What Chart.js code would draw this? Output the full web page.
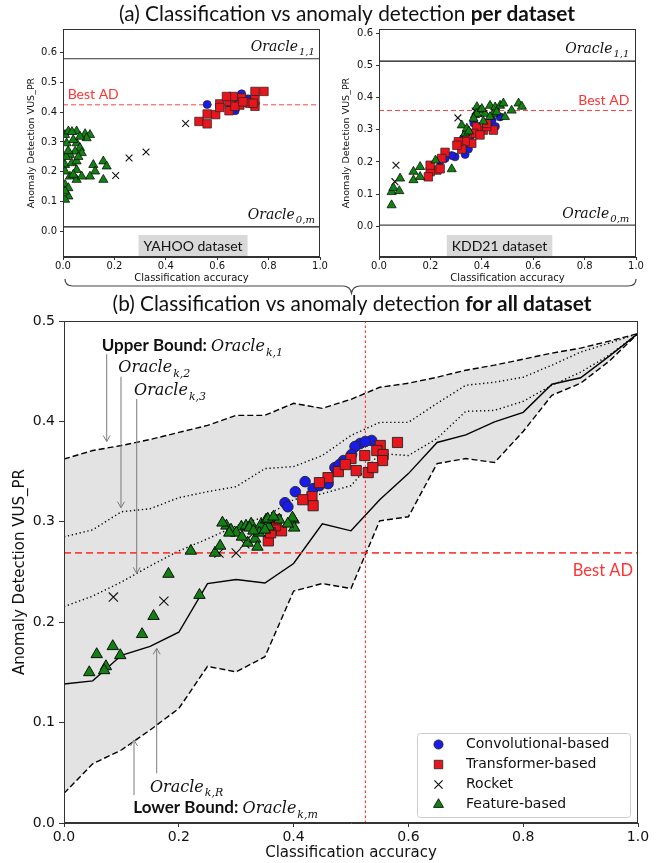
<!DOCTYPE html>
<html><head><meta charset="utf-8">
<script src="https://cdn.jsdelivr.net/npm/chart.js@4.4.0/dist/chart.umd.min.js"></script>
<style>
html,body{margin:0;padding:0;background:#fff;width:667px;height:863px;overflow:hidden;position:relative}
canvas{position:absolute}
</style></head><body>
<script>
// ---------------- DATA ----------------
const xTicks = [0, 0.2, 0.4, 0.6, 0.8, 1.0];
const mainYTicks = [0, 0.1, 0.2, 0.3, 0.4, 0.5];
const smallYTicks = [0, 0.1, 0.2, 0.3, 0.4, 0.5, 0.6];

// (a) YAHOO
const yahooConv = [[0.561,0.426],[0.695,0.462],[0.65,0.42],[0.68,0.44],[0.67,0.405],[0.72,0.445]];
const yahooTrans = [[0.529,0.369],[0.561,0.361],[0.561,0.394],[0.594,0.392],[0.61,0.428],[0.61,0.416],[0.646,0.405],[0.646,0.436],[0.663,0.453],[0.695,0.448],[0.714,0.434],[0.747,0.47],[0.782,0.47],[0.747,0.42],[0.747,0.442],[0.727,0.43],[0.688,0.424],[0.669,0.42],[0.636,0.453],[0.70,0.435],[0.74,0.43]];
const yahooRocket = [[0.477,0.362],[0.323,0.266],[0.257,0.246],[0.205,0.187]];
const yahooFeat = [[0.008,0.324],[0.021,0.336],[0.053,0.336],[0.086,0.327],[0.105,0.324],[0.092,0.313],[0.014,0.296],[0.053,0.296],[0.066,0.280],[0.047,0.268],[0.027,0.257],[0.073,0.263],[0.008,0.223],[0.034,0.229],[0.053,0.235],[0.053,0.206],[0.027,0.184],[0.053,0.173],[0.008,0.201],[0.008,0.156],[0.021,0.145],[0.021,0.117],[0.008,0.134],[0.008,0.106],[0.118,0.223],[0.125,0.201],[0.157,0.235],[0.170,0.218],[0.157,0.173],[0.105,0.184],[0.073,0.184],[0.040,0.307],[0.066,0.318],[0.035,0.334],[0.012,0.250],[0.06,0.250],[0.02,0.27],[0.04,0.19]];
const yahooOracleTop = 0.58, yahooOracleBottom = 0.0145, yahooBestAD = 0.425;

// (a) KDD21
const kddConv = [[0.471,0.340],[0.432,0.325],[0.40,0.299],[0.381,0.294],[0.355,0.279],[0.328,0.273],[0.309,0.258],[0.348,0.24],[0.335,0.2235],[0.296,0.216],[0.283,0.22],[0.257,0.211],[0.238,0.203],[0.369,0.321],[0.453,0.31],[0.44,0.33]];
const kddTrans = [[0.406,0.299],[0.445,0.299],[0.419,0.31],[0.38,0.309],[0.368,0.289],[0.342,0.284],[0.361,0.258],[0.335,0.263],[0.322,0.24],[0.309,0.263],[0.303,0.252],[0.257,0.23],[0.244,0.211],[0.225,0.175],[0.199,0.17],[0.192,0.154],[0.199,0.19],[0.238,0.179],[0.393,0.284],[0.419,0.32]];
const kddRocket = [[0.307,0.337],[0.066,0.190],[0.062,0.139],[0.374,0.358],[0.387,0.35]];
const kddFeat = [[0.049,0.066],[0.049,0.107],[0.056,0.12],[0.079,0.11],[0.082,0.149],[0.134,0.144],[0.134,0.17],[0.16,0.154],[0.16,0.185],[0.283,0.178],[0.322,0.314],[0.335,0.289],[0.374,0.346],[0.381,0.371],[0.394,0.36],[0.406,0.326],[0.413,0.35],[0.432,0.375],[0.445,0.35],[0.452,0.37],[0.471,0.375],[0.484,0.382],[0.49,0.34],[0.516,0.36],[0.543,0.382],[0.556,0.372],[0.381,0.35],[0.368,0.335],[0.458,0.355],[0.432,0.34],[0.342,0.304],[0.22,0.205],[0.35,0.295],[0.40,0.365]];
const kddOracleTop = 0.513, kddOracleBottom = 0.004, kddBestAD = 0.36;

// (b) all datasets: oracle curves
const oracleX = [0,0.05,0.1,0.15,0.2,0.25,0.3,0.35,0.4,0.45,0.5,0.55,0.6,0.65,0.7,0.75,0.8,0.85,0.9,0.95,1.0];
const upperBound = [0.3625,0.371,0.376,0.382,0.389,0.396,0.406,0.406,0.418,0.413,0.422,0.434,0.438,0.444,0.451,0.456,0.462,0.468,0.473,0.480,0.4875];
const oracleK2 = [0.285,0.292,0.310,0.313,0.324,0.330,0.335,0.353,0.355,0.366,0.386,0.399,0.399,0.418,0.436,0.439,0.444,0.456,0.469,0.478,0.4875];
const oracleK3 = [0.2155,0.226,0.240,0.256,0.271,0.283,0.296,0.305,0.322,0.328,0.336,0.368,0.366,0.383,0.410,0.411,0.420,0.436,0.449,0.466,0.4875];
const oracleKR = [0.1385,0.1416,0.167,0.176,0.190,0.2385,0.2425,0.239,0.2585,0.298,0.291,0.322,0.348,0.379,0.3865,0.3995,0.409,0.437,0.4435,0.465,0.4875];
const lowerBound = [0.0295,0.059,0.0727,0.0926,0.114,0.156,0.1505,0.1656,0.231,0.2385,0.2335,0.301,0.305,0.358,0.363,0.359,0.390,0.426,0.438,0.460,0.4875];
const allBestAD = 0.269, allBestAcc = 0.525;

const allConv = [[0.536,0.381],[0.516,0.378],[0.507,0.375],[0.501,0.367],[0.487,0.361],[0.472,0.354],[0.46,0.338],[0.434,0.333],[0.42,0.340],[0.403,0.330],[0.385,0.319],[0.39,0.315],[0.525,0.38],[0.48,0.357],[0.445,0.336]];
const allTrans = [[0.581,0.379],[0.551,0.376],[0.545,0.371],[0.556,0.367],[0.555,0.361],[0.524,0.366],[0.509,0.351],[0.530,0.349],[0.538,0.354],[0.478,0.350],[0.46,0.344],[0.445,0.339],[0.432,0.325],[0.434,0.316],[0.416,0.322],[0.379,0.291],[0.356,0.281],[0.368,0.296],[0.50,0.363],[0.49,0.357],[0.37,0.302],[0.36,0.289]];
const allRocket = [[0.086,0.225],[0.174,0.221],[0.27,0.269],[0.30,0.269],[0.315,0.278],[0.32,0.283]];
const allFeat = [[0.044,0.150],[0.057,0.168],[0.085,0.176],[0.073,0.156],[0.070,0.152],[0.098,0.167],[0.136,0.188],[0.156,0.206],[0.236,0.227],[0.182,0.248],[0.221,0.271],[0.263,0.269],[0.272,0.276],[0.283,0.296],[0.291,0.292],[0.309,0.295],[0.300,0.289],[0.317,0.296],[0.326,0.298],[0.320,0.279],[0.333,0.283],[0.337,0.275],[0.343,0.297],[0.357,0.295],[0.352,0.302],[0.355,0.303],[0.375,0.302],[0.400,0.302],[0.401,0.294],[0.398,0.304],[0.276,0.299],[0.323,0.294],[0.288,0.289],[0.340,0.289],[0.33,0.291],[0.31,0.285],[0.35,0.292],[0.365,0.305],[0.39,0.298]];

const seriesNames = ['Convolutional-based','Transformer-based','Rocket','Feature-based'];

// ---------------- STYLE / BUILD ----------------
const COL = {conv:'#1b1be8', trans:'#e8161c', feat:'#138013', rocket:'#111111', fill:'#e3e3e3', red:'rgba(255,45,45,0.9)'};
const pts = a => a.map(p => ({x:p[0], y:p[1]}));
const linePts = (xs, ys) => xs.map((x,i) => ({x, y:ys[i]}));
const hline = (y) => [{x:0,y},{x:1,y}];

function scatterSets(conv, trans, rocket, feat, big){
  const s = big ? {c:5.3, r:7.2, x:6.5, t:6.6, bw:0.9} : {c:4.0, r:6.0, x:4.8, t:5.3, bw:0.7};
  return [
    {label:seriesNames[3], data:pts(feat), pointStyle:'triangle', pointRadius:s.t, pointBackgroundColor:COL.feat, pointBorderColor:'#000', pointBorderWidth:s.bw, order:1},
    {label:seriesNames[2], data:pts(rocket), pointStyle:'crossRot', pointRadius:s.x, pointBackgroundColor:'#000', pointBorderColor:'#111', pointBorderWidth:1.1, order:2},
    {label:seriesNames[1], data:pts(trans), pointStyle:'rect', pointRadius:s.r, pointBackgroundColor:COL.trans, pointBorderColor:'#222', pointBorderWidth:s.bw, order:3},
    {label:seriesNames[0], data:pts(conv), pointStyle:'circle', pointRadius:s.c, pointBackgroundColor:COL.conv, pointBorderColor:'#222', pointBorderWidth:s.bw, order:4},
  ];
}
function lineSet(data, o){
  return Object.assign({data, showLine:true, pointRadius:0, borderColor:'#000', borderWidth:1.2, tension:0, fill:false, order:10}, o);
}

function scalesCfg(o){
  return {
    x:{type:'linear', min:0, max:1,
      afterBuildTicks:s=>{s.ticks = xTicks.map(v=>({value:v}));},
      afterFit:s=>{s.height = o.xh;},
      grid:{display:true, drawOnChartArea:false, drawTicks:true, tickLength:o.xtl, color:'#333', tickColor:'#333'},
      border:{display:true, color:'#333', width:1},
      ticks:{font:{family:'DejaVu Sans', size:o.tf}, color:'#111', padding:o.xtp, maxRotation:0, callback:v=>Number(v).toFixed(1)},
      title:{display:true, text:'Classification accuracy', font:{family:'DejaVu Sans', size:o.af}, color:'#111', padding:{top:0, bottom:o.xtitle}}},
    y:{type:'linear', min:o.ymin, max:o.ymax,
      afterBuildTicks:s=>{s.ticks = o.yticks.map(v=>({value:v}));},
      afterFit:s=>{s.width = o.yw;},
      grid:{display:true, drawOnChartArea:false, drawTicks:true, tickLength:o.ytl, color:'#333', tickColor:'#333'},
      border:{display:true, color:'#333', width:1},
      ticks:{font:{family:'DejaVu Sans', size:o.tf}, color:'#111', padding:o.ytp, callback:v=>Number(v).toFixed(1)},
      title:{display:true, text:'Anomaly Detection VUS_PR', font:{family:'DejaVu Sans', size:o.yaf}, color:'#111', padding:{top:o.ytitle, bottom:0}}}
  };
}

function mkCanvas(left, top, w, h){
  const c = document.createElement('canvas');
  c.width = w; c.height = h;
  c.style.cssText = `left:${left}px;top:${top}px;width:${w}px;height:${h}px`;
  document.body.appendChild(c);
  return c;
}

function oracleText(ctx, x, y, sub, size, align){
  const f1 = `italic ${size}px "DejaVu Serif"`, f2 = `italic ${Math.round(size*0.68)}px "DejaVu Serif"`;
  ctx.font = f1; const w1 = ctx.measureText('Oracle').width;
  ctx.font = f2; const w2 = ctx.measureText(sub).width;
  const x0 = align === 'right' ? x - w1 - w2 - 1 : x;
  ctx.textAlign = 'left'; ctx.textBaseline = 'alphabetic'; ctx.fillStyle = '#111';
  ctx.font = f1; ctx.fillText('Oracle', x0, y);
  ctx.font = f2; ctx.fillText(sub, x0 + w1 + 1, y + size*0.3);
  return w1 + w2 + 1;
}

const framePlugin = {id:'frame', afterDraw(chart){
  const {ctx, chartArea:a} = chart;
  ctx.save(); ctx.strokeStyle = '#333'; ctx.lineWidth = 1;
  ctx.strokeRect(Math.round(a.left)+0.5, Math.round(a.top)+0.5, Math.round(a.right-a.left)-1, Math.round(a.bottom-a.top)-1);
  ctx.restore();
}};

function smallAnno(cfg){
  return {id:'anno', afterDatasetsDraw(chart){
    const {ctx, chartArea:a, scales:{x, y}} = chart;
    ctx.save();
    oracleText(ctx, x.getPixelForValue(cfg.oracleX), y.getPixelForValue(cfg.topLabelY), '1,1', 14, 'right');
    oracleText(ctx, x.getPixelForValue(cfg.oracleX), y.getPixelForValue(cfg.botLabelY), '0,m', 14, 'right');
    ctx.fillStyle = 'rgba(255,40,40,0.95)'; ctx.font = '14px Lato'; ctx.textBaseline = 'alphabetic';
    ctx.textAlign = cfg.adAlign;
    ctx.fillText('Best AD', x.getPixelForValue(cfg.adX), y.getPixelForValue(cfg.adY));
    // dataset label box
    ctx.font = '14px Lato';
    const tw = ctx.measureText(cfg.name).width;
    const cx = a.left + cfg.nameX*(a.right-a.left), cy = a.bottom - 11.5;
    ctx.fillStyle = '#d9d9d9';
    ctx.fillRect(cx - tw/2 - 5, cy - 10.5, tw + 10, 21);
    ctx.fillStyle = '#111'; ctx.textAlign = 'center'; ctx.textBaseline = 'middle';
    ctx.fillText(cfg.name, cx, cy + 1);
    ctx.restore();
  }};
}

function arrow(ctx, x, y0, y1){
  ctx.beginPath(); ctx.moveTo(x, y0); ctx.lineTo(x, y1); ctx.stroke();
  const d = y1 > y0 ? -1 : 1;
  ctx.beginPath(); ctx.moveTo(x-3.5, y1 + d*6); ctx.lineTo(x, y1); ctx.lineTo(x+3.5, y1 + d*6); ctx.stroke();
}

const mainAnno = {id:'mainAnno', afterDatasetsDraw(chart){
  const {ctx, chartArea:a, scales:{x, y}} = chart;
  const X = v => x.getPixelForValue(v), Y = v => y.getPixelForValue(v);
  ctx.save();
  ctx.strokeStyle = '#7a7a7a'; ctx.lineWidth = 1;
  arrow(ctx, X(0.0744), Y(0.467), Y(0.380));
  arrow(ctx, X(0.0993), Y(0.4445), Y(0.314));
  arrow(ctx, X(0.1267), Y(0.4223), Y(0.2487));
  arrow(ctx, X(0.122), Y(0.0279), Y(0.0827));
  arrow(ctx, X(0.1615), Y(0.0495), Y(0.174));
  ctx.fillStyle = '#111'; ctx.textAlign = 'left'; ctx.textBaseline = 'alphabetic';
  ctx.font = 'bold 17px Lato';
  let w = ctx.measureText('Upper Bound: ').width;
  ctx.fillText('Upper Bound: ', X(0.0657), Y(0.470));
  oracleText(ctx, X(0.0657) + w, Y(0.470), 'k,1', 16, 'left');
  oracleText(ctx, X(0.0946), Y(0.4495), 'k,2', 16, 'left');
  oracleText(ctx, X(0.122), Y(0.4263), 'k,3', 16, 'left');
  oracleText(ctx, X(0.1498), Y(0.0312), 'k,R', 16, 'left');
  ctx.fillStyle = '#111'; ctx.font = 'bold 17px Lato';
  w = ctx.measureText('Lower Bound: ').width;
  ctx.fillText('Lower Bound: ', X(0.1207), Y(0.0097));
  oracleText(ctx, X(0.1207) + w, Y(0.0097), 'k,m', 16, 'left');
  ctx.fillStyle = 'rgba(255,40,40,0.95)'; ctx.font = '16.5px Lato'; ctx.textAlign = 'right';
  ctx.fillText('Best AD', a.right - 5, Y(0.246));
  // legend
  const bw = 213, bh = 84, bx = a.right - 8 - bw, by = a.bottom - 6 - bh;
  ctx.fillStyle = 'rgba(255,255,255,0.85)'; ctx.strokeStyle = '#cccccc'; ctx.lineWidth = 1;
  ctx.beginPath(); ctx.roundRect(bx+0.5, by+0.5, bw, bh, 3); ctx.fill(); ctx.stroke();
  const metaOrder = [3,2,1,0];
  const legR = {circle:4.6, rect:6.0, crossRot:5.8, triangle:5.8};
  metaOrder.forEach((di, i) => {
    const ds = chart.data.datasets[di];
    const cy = by + 11.5 + i*20, cx = bx + 21.5;
    ctx.fillStyle = ds.pointBackgroundColor; ctx.strokeStyle = ds.pointBorderColor;
    ctx.lineWidth = ds.pointStyle === 'crossRot' ? 1.2 : 0.8;
    Chart.helpers.drawPoint(ctx, {pointStyle:ds.pointStyle, radius:legR[ds.pointStyle], rotation:0, borderWidth:ctx.lineWidth}, cx, cy);
    ctx.fillStyle = '#111'; ctx.font = '14px "DejaVu Sans"'; ctx.textAlign = 'left'; ctx.textBaseline = 'middle';
    ctx.fillText(ds.label, bx + 49, cy);
  });
  ctx.restore();
}};

const baseOpts = {responsive:false, animation:false, events:[], plugins:{legend:{display:false}, tooltip:{enabled:false}, filler:{drawTime:'beforeDatasetsDraw'}}};

function build(){
  const c1 = mkCanvas(0, 20, 333, 265);
  new Chart(c1, {type:'scatter',
    data:{datasets:[
      ...scatterSets(yahooConv, yahooTrans, yahooRocket, yahooFeat, false),
      lineSet(hline(yahooOracleTop), {borderColor:'#333'}),
      lineSet(hline(yahooOracleBottom), {borderColor:'#111'}),
      lineSet(hline(yahooBestAD), {borderColor:COL.red, borderDash:[5,3], borderWidth:1})
    ]},
    options:Object.assign({}, baseOpts, {layout:{padding:{left:0, top:9, right:13, bottom:0}},
      scales:scalesCfg({xh:28, xtl:3, xtp:0, tf:10, af:10, yaf:9.5, xtitle:1, ymin:-0.087, ymax:0.68, yticks:smallYTicks, yw:63, ytl:3, ytp:3, ytitle:26})}),
    plugins:[smallAnno({oracleX:0.98, topLabelY:0.607, botLabelY:0.0414, adX:0.018, adY:0.4455, adAlign:'left', name:'YAHOO dataset', nameX:0.506}), framePlugin]
  });
  const c2 = mkCanvas(333, 20, 334, 265);
  new Chart(c2, {type:'scatter',
    data:{datasets:[
      ...scatterSets(kddConv, kddTrans, kddRocket, kddFeat, false),
      lineSet(hline(kddOracleTop), {borderColor:'#111'}),
      lineSet(hline(kddOracleBottom), {borderColor:'#444'}),
      lineSet(hline(kddBestAD), {borderColor:COL.red, borderDash:[5,3], borderWidth:1})
    ]},
    options:Object.assign({}, baseOpts, {layout:{padding:{left:0, top:9, right:31, bottom:0}},
      scales:scalesCfg({xh:28, xtl:3, xtp:0, tf:10, af:10, yaf:9.5, xtitle:1, ymin:-0.095, ymax:0.613, yticks:smallYTicks, yw:46, ytl:3, ytp:3, ytitle:8})}),
    plugins:[smallAnno({oracleX:0.974, topLabelY:0.539, botLabelY:0.0258, adX:0.974, adY:0.377, adAlign:'right', name:'KDD21 dataset', nameX:0.469}), framePlugin]
  });
  const c3 = mkCanvas(0, 300, 667, 563);
  const sc = scatterSets(allConv, allTrans, allRocket, allFeat, true);
  const base = sc.length;
  new Chart(c3, {type:'scatter',
    data:{datasets:[
      ...sc,
      lineSet(linePts(oracleX, upperBound), {label:'Upper bound', borderDash:[6,3], borderWidth:1.4, fill:base+4, backgroundColor:COL.fill, order:14}),
      lineSet(linePts(oracleX, oracleK2), {borderDash:[1.3,2.7], borderWidth:1.4, order:13}),
      lineSet(linePts(oracleX, oracleK3), {borderDash:[1.3,2.7], borderWidth:1.4, order:12}),
      lineSet(linePts(oracleX, oracleKR), {borderWidth:1.4, order:11}),
      lineSet(linePts(oracleX, lowerBound), {label:'Lower bound', borderDash:[6,3], borderWidth:1.4, order:15}),
      lineSet(hline(allBestAD), {borderColor:COL.red, borderDash:[7,4], borderWidth:1.8, order:9}),
      lineSet([{x:allBestAcc, y:0},{x:allBestAcc, y:0.5}], {borderColor:'rgba(255,20,20,1)', borderDash:[2.5,2.5], borderWidth:1, order:9})
    ]},
    options:Object.assign({}, baseOpts, {layout:{padding:{left:0, top:21, right:29, bottom:0}},
      scales:scalesCfg({xh:40, xtl:4, xtp:2, tf:14, af:15, yaf:15, xtitle:1, ymin:0, ymax:0.5, yticks:mainYTicks, yw:64, ytl:5, ytp:4, ytitle:11})}),
    plugins:[mainAnno, framePlugin]
  });

  const d = mkCanvas(0, 0, 667, 863);
  d.style.zIndex = 5; d.style.pointerEvents = 'none';
  const ctx = d.getContext('2d');
  function title(normal, bold, cx, baseline, width){
    let fs = 20;
    ctx.font = `${fs}px Lato`; let w1 = ctx.measureText(normal).width;
    ctx.font = `bold ${fs}px Lato`; let w2 = ctx.measureText(bold).width;
    fs = fs * width / (w1 + w2);
    ctx.font = `${fs}px Lato`; w1 = ctx.measureText(normal).width;
    ctx.font = `bold ${fs}px Lato`; w2 = ctx.measureText(bold).width;
    const x0 = cx - (w1 + w2)/2;
    ctx.fillStyle = '#111'; ctx.textAlign = 'left'; ctx.textBaseline = 'alphabetic';
    ctx.font = `${fs}px Lato`; ctx.fillText(normal, x0, baseline);
    ctx.font = `bold ${fs}px Lato`; ctx.fillText(bold, x0 + w1, baseline);
  }
  title('(a) Classification vs anomaly detection ', 'per dataset', 347, 21, 456);
  title('(b) Classification vs anomaly detection ', 'for all dataset', 352, 311, 479);
  ctx.strokeStyle = '#444'; ctx.lineWidth = 1.2;
  ctx.beginPath();
  ctx.moveTo(65, 279); ctx.quadraticCurveTo(65, 286, 73, 286);
  ctx.lineTo(343, 286); ctx.quadraticCurveTo(350, 286, 351.5, 293);
  ctx.quadraticCurveTo(353, 286, 360, 286);
  ctx.lineTo(628, 286); ctx.quadraticCurveTo(636, 286, 636, 279);
  ctx.stroke();
}

Promise.all([
  document.fonts.load('16px Lato'), document.fonts.load('bold 16px Lato'),
  document.fonts.load('italic 16px "DejaVu Serif"'), document.fonts.load('14px "DejaVu Sans"')
]).then(build, build);
</script>
</body></html>
